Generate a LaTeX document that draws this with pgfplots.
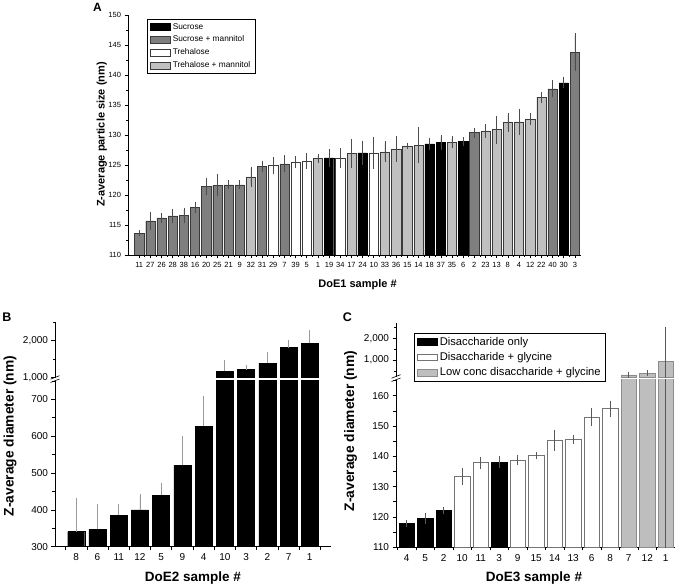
\documentclass[border=0pt]{standalone}
\usepackage{fontspec}
\setmainfont{Liberation Sans}
\usepackage{pgfplots}
\usepackage{pgfplotstable}
\pgfplotsset{compat=1.18}

\definecolor{dgray}{HTML}{7F7F7F}
\definecolor{lgray}{HTML}{C0C0C0}
\definecolor{cgray}{HTML}{BEBEBE}
\definecolor{edge}{HTML}{3A3A3A}
\definecolor{ebgray}{HTML}{999999}

% ---------- Panel A ----------
\pgfplotstableread{
x y e
18 126.2 1.2
21 127.0 1.7
27 128.5 0.6
28 128.8 0.9
30 128.9 0.4
39 138.7 0.6
}\ASuc
\pgfplotstableread{
x y e
1 113.6 0.15
2 115.7 1.2
3 116.2 0.5
4 116.5 0.9
5 116.6 0.9
6 117.9 0.6
7 121.4 1.1
8 121.6 1.5
9 121.7 0.4
10 121.7 0.4
12 124.8 0.6
14 125.2 1.1
31 130.4 0.5
38 137.7 1.1
40 143.8 2.8
}\ASucMan
\pgfplotstableread{
x y e
13 124.9 1.1
15 125.5 0.6
16 125.7 1.0
19 126.2 1.3
22 127.0 2.3
}\ATre
\pgfplotstableread{
x y e
11 123.0 1.4
17 126.1 0.4
20 126.9 2.1
23 127.2 1.4
24 127.7 1.8
25 128.2 0.2
26 128.3 2.7
29 128.8 0.7
32 130.7 0.8
33 130.9 2.0
34 132.1 1.2
35 132.2 1.8
36 132.7 0.7
37 136.3 0.6
}\ATreMan

% ---------- Panel B ----------
\pgfplotstableread{
x y e
1 341 84
2 347 63
3 386 22
4 400 37
5 440 25
6 521 74
7 627 75
8 1180 225
9 1225 55
10 1396 243
11 1811 144
12 1928 288
}\BData

% ---------- Panel C ----------
\pgfplotstableread{
x y e
1 117.9 0.3
2 119.5 0.8
3 122.1 0.3
6 138.1 1.2
}\CBlack
\pgfplotstableread{
x y e
4 133.3 1.8
5 137.9 1.1
7 138.7 0.7
8 140.2 0.3
9 145.3 2.6
10 145.6 0.6
11 152.9 2.0
12 155.7 1.7
}\CWhite
\pgfplotstableread{
x y e
13 316 8
14 381 12
15 940 1455
}\CGray

\pgfplotsset{
  every axis/.append style={/pgf/number format/assume math mode=true},
  barax/.style={scale only axis, anchor=south west,
    axis line style={-, line width=0.7pt},
    tick align=outside, tick style={black, line width=0.6pt},
    major tick length=3.5pt, minor tick length=2pt,
    ybar, bar shift=0pt, scaled y ticks=false,
    yticklabel style={/pgf/number format/1000 sep={,}},
  },
  legA/.style={legend image code/.code={\draw[##1, line width=0.5pt] (0pt,-3.6pt) rectangle (20pt,3.6pt);}},
  legC/.style={legend image code/.code={\draw[##1, line width=0.5pt] (0pt,-3.4pt) rectangle (20pt,3.4pt);}},
  ebA/.style={error bars/.cd, y dir=both, y explicit,
    error bar style={line width=0.6pt, color=black!70},
    error mark options={line width=0.6pt, mark size=2pt, color=black!70}},
  ebB/.style={error bars/.cd, y dir=plus, y explicit,
    error bar style={line width=0.7pt, color=ebgray},
    error mark options={line width=0.7pt, mark size=2.5pt, color=ebgray}},
  ebC/.style={error bars/.cd, y dir=both, y explicit,
    error bar style={line width=0.6pt, color=black!65},
    error mark options={line width=0.6pt, mark size=2.8pt, color=black!65}},
}

\begin{document}
\begin{tikzpicture}[x=1pt,y=1pt]
\useasboundingbox (0,0) rectangle (675,585);

% ================= Panel A =================
\begin{axis}[barax, at={(128pt,330pt)}, width=453pt, height=240pt,
  xmin=0, xmax=40.55, ymin=110, ymax=150,
  axis x line*=bottom, axis y line*=left,
  bar width=0.83,
  xtick={1,...,40},
  xticklabels={11,27,26,28,38,16,20,25,21,9,32,31,29,7,39,5,1,19,34,17,24,10,33,36,15,14,18,37,35,6,2,23,13,8,4,12,22,40,30,3},
  minor x tick num=1,
  ytick={110,115,...,150}, minor y tick num=1,
  tick label style={font=\fontsize{7.5}{9}\selectfont},
  legend cell align=left,
  legend style={at={(0.042,0.983)}, anchor=north west, draw=black, line width=0.6pt,
    font=\fontsize{8.3}{9.5}\selectfont, inner xsep=3pt, inner ysep=2pt, row sep=1.3pt},
  every axis plot post/.append style={legA},
]
\addplot[fill=black, draw=black, line width=0.4pt, ebA] table[x=x,y=y,y error=e]{\ASuc};
\addplot[fill=dgray, draw=edge, line width=0.4pt, ebA] table[x=x,y=y,y error=e]{\ASucMan};
\addplot[fill=white, draw=edge, line width=0.4pt, ebA] table[x=x,y=y,y error=e]{\ATre};
\addplot[fill=lgray, draw=edge, line width=0.4pt, ebA] table[x=x,y=y,y error=e]{\ATreMan};
\legend{Sucrose, Sucrose + mannitol, Trehalose, Trehalose + mannitol}
\end{axis}
\node[font=\bfseries\fontsize{12}{14}\selectfont] at (97.5,578) {A};
\node[rotate=90, font=\bfseries\fontsize{11}{13}\selectfont] at (101.7,450.5) {Z-average particle size (nm)};
\node[font=\bfseries\fontsize{11}{13}\selectfont] at (357.5,300.7) {DoE1 sample \#};

% ================= Panel B =================
\begin{axis}[barax, at={(55pt,38.3pt)}, width=276pt, height=165.8pt,
  xmin=0, xmax=13, ymin=300, ymax=750,
  axis x line*=bottom, axis y line*=left,
  bar width=0.8,
  xtick={1,...,12}, xticklabels={8,6,11,12,5,9,4,10,3,2,7,1},
  major x tick style={draw=none}, minor xtick={0.5,1.5,...,12.5}, minor tick length=3pt,
  ytick={300,400,...,700}, minor ytick={350,450,...,750},
  tick label style={font=\fontsize{10}{12}\selectfont},
]
\addplot[fill=black, draw=black, line width=0.4pt, ebB] table[x=x,y=y,y error=e]{\BData};
\end{axis}
\begin{axis}[barax, at={(55pt,207.3pt)}, width=276pt, height=55.5pt,
  xmin=0, xmax=13, ymin=1000, ymax=2500,
  axis x line=none, axis y line*=left,
  bar width=0.8,
  ytick={1000,2000}, minor ytick={1500,2500},
  tick label style={font=\fontsize{10}{12}\selectfont},
]
\addplot[skip coords between index={0}{7}, fill=black, draw=black, line width=0.4pt, ebB] table[x=x,y=y,y error=e]{\BData};
\end{axis}
% axis break marks B
\fill[white] (52,204.2) rectangle (58,207.4);
\draw[line width=0.6pt] (50.5,202.5) -- (59.5,206);
\draw[line width=0.6pt] (50.5,205.8) -- (59.5,209.3);
\node[font=\bfseries\fontsize{12.5}{14}\selectfont] at (7,267.5) {B};
\node[rotate=90, font=\bfseries\fontsize{13.8}{16}\selectfont] at (10,149) {Z-average diameter (nm)};
\node[font=\bfseries\fontsize{13.5}{16}\selectfont] at (193,7) {DoE2 sample \#};

% ================= Panel C =================
\begin{axis}[barax, at={(396pt,37.7pt)}, width=279pt, height=168pt,
  xmin=0.42, xmax=15.5, ymin=110, ymax=165.4,
  axis x line*=bottom, axis y line*=left,
  bar width=0.83,
  xtick={1,...,15}, xticklabels={4,5,2,10,11,3,9,15,14,13,6,8,7,12,1},
  major x tick style={draw=none}, minor xtick={0.5,1.5,...,15.5}, minor tick length=3pt,
  ytick={110,120,...,160}, minor ytick={115,125,...,165},
  tick label style={font=\fontsize{10}{12}\selectfont},
]
\addplot[fill=black, draw=black, line width=0.4pt, ebC] table[x=x,y=y,y error=e]{\CBlack};
\addplot[fill=white, draw=black!55, line width=0.6pt, ebC] table[x=x,y=y,y error=e]{\CWhite};
\addplot[fill=cgray, draw=black!45, line width=0.5pt, ebC] table[x=x,y=y,y error=e]{\CGray};
\end{axis}
\begin{axis}[barax, at={(396pt,207.7pt)}, width=279pt, height=54.5pt,
  xmin=0.42, xmax=15.5, ymin=200, ymax=2730,
  axis x line=none, axis y line*=left,
  bar width=0.83,
  ytick={1000,2000}, minor ytick={500,1500,2500},
  tick label style={font=\fontsize{10}{12}\selectfont},
  legend cell align=left,
  legend style={at={(0.0645,0.813)}, anchor=north west, draw=black, line width=0.6pt,
    font=\fontsize{11.2}{13}\selectfont, inner xsep=3pt, inner ysep=2pt, row sep=1.6pt},
  every axis plot post/.append style={legC},
]
\addlegendimage{legC, fill=black, draw=black, line width=0.4pt}
\addlegendimage{legC, fill=white, draw=black!55, line width=0.6pt}
\addplot[fill=cgray, draw=black!45, line width=0.5pt, ebC] table[x=x,y=y,y error=e]{\CGray};
\legend{Disaccharide only, Disaccharide + glycine, Low conc disaccharide + glycine}
\end{axis}
% axis break marks C
\fill[white] (393,205.2) rectangle (399,208.4);
\draw[line width=0.6pt] (391.5,203.5) -- (400.5,207);
\draw[line width=0.6pt] (391.5,206.8) -- (400.5,210.3);
\node[font=\bfseries\fontsize{12.5}{14}\selectfont] at (347.5,267.5) {C};
\node[rotate=90, font=\bfseries\fontsize{13.8}{16}\selectfont] at (350.5,154) {Z-average diameter (nm)};
\node[font=\bfseries\fontsize{13.5}{16}\selectfont] at (534,7) {DoE3 sample \#};
\end{tikzpicture}
\end{document}
